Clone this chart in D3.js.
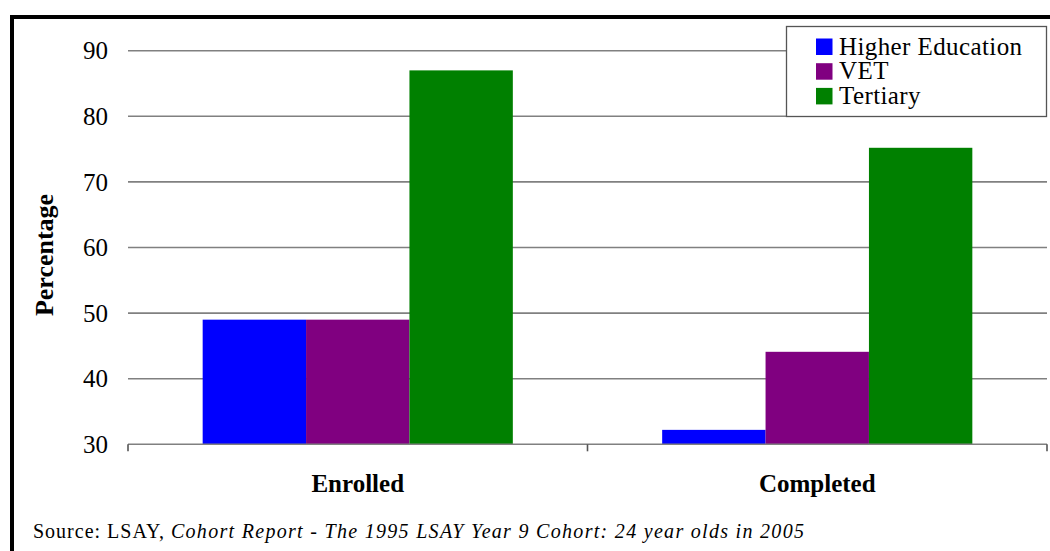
<!DOCTYPE html>
<html><head><meta charset="utf-8">
<script src="https://cdn.jsdelivr.net/npm/d3@7"></script>
<style>
body{margin:0;background:#fff;}
svg{display:block;}
</style></head>
<body><svg id="c" width="1050" height="551" font-family="'Liberation Serif', Tinos, 'Times New Roman', Times, serif"></svg>
<script>
const categories = ["Enrolled", "Completed"];
const seriesNames = ["Higher Education", "VET", "Tertiary"];
const seriesColors = ["#0000ff", "#800080", "#008000"];
const higherEducation = [49, 32.2];
const vet = [49, 44.1];
const tertiary = [87, 75.2];
const yTicks = [30, 40, 50, 60, 70, 80, 90];
const yTitle = "Percentage";
const sourcePlain = "Source: LSAY, ";
const sourceItalic = "Cohort Report - The 1995 LSAY Year 9 Cohort: 24 year olds in 2005";

const seriesValues = [higherEducation, vet, tertiary];
const svg = d3.select("#c");
const FF = "'Liberation Serif', Tinos, 'Times New Roman', Times, serif";

// frame
svg.append("path").attr("d","M12,551 V17 H1050").attr("fill","none").attr("stroke","#000").attr("stroke-width",4);

const pLeft = 128, pRight = 1047, pTop = 50.7, pBottom = 444.3;
const y = d3.scaleLinear().domain([30, 90]).range([pBottom, pTop]);
const x0 = d3.scaleBand().domain(categories).range([pLeft, pRight]).paddingInner(0.325).paddingOuter(0.1625);
const x1 = d3.scaleBand().domain(seriesNames).range([0, x0.bandwidth()]);

// gridlines
svg.append("g").selectAll("line").data(yTicks.filter(t=>t>30)).join("line")
  .attr("x1", pLeft).attr("x2", pRight).attr("y1", d=>y(d)).attr("y2", d=>y(d))
  .attr("stroke","#808080").attr("stroke-width",1.6);

// y tick labels
svg.append("g").selectAll("text").data(yTicks).join("text")
  .attr("x", 108).attr("y", d=>y(d)).attr("dy","0.35em").attr("text-anchor","end")
  .attr("font-family",FF).attr("font-size",25).attr("fill","#000").text(d=>d);

// bars
const rows = [];
categories.forEach((c,i)=>seriesNames.forEach((s,j)=>rows.push({c, s, v: seriesValues[j][i], color: seriesColors[j]})));
svg.append("g").selectAll("rect").data(rows).join("rect")
  .attr("x", d=>x0(d.c)+x1(d.s)).attr("width", x1.bandwidth())
  .attr("y", d=>y(d.v)).attr("height", d=>y(30)-y(d.v)).attr("fill", d=>d.color);

// x axis line and ticks
const xa = svg.append("g").attr("stroke","#808080").attr("stroke-width",1.6);
xa.append("line").attr("x1",pLeft).attr("x2",pRight).attr("y1",y(30)).attr("y2",y(30));
const tickXs = [pLeft, x0.step() + pLeft, pRight];
xa.selectAll("line.t").data(tickXs).join("line").attr("class","t")
  .attr("x1",d=>d).attr("x2",d=>d).attr("y1",y(30)).attr("y2",y(30)+7).attr("stroke","#555");

// category labels
svg.append("g").selectAll("text").data(categories).join("text")
  .attr("x", d=>x0(d)+x0.bandwidth()/2).attr("y", 492).attr("text-anchor","middle")
  .attr("font-family",FF).attr("font-size",25).attr("font-weight","bold").attr("fill","#000").text(d=>d);

// y title
svg.append("text").attr("transform","translate(53,255) rotate(-90)").attr("text-anchor","middle")
  .attr("font-family",FF).attr("font-size",26).attr("font-weight","bold").attr("fill","#000").text(yTitle);

// legend
const lg = svg.append("g");
lg.append("rect").attr("x",786.5).attr("y",26.5).attr("width",260).attr("height",90)
  .attr("fill","#fff").attr("stroke","#555").attr("stroke-width",1.3);
seriesNames.forEach((s,i)=>{
  const yy = 38.5 + i*24.7;
  lg.append("rect").attr("x",816).attr("y",yy).attr("width",16.5).attr("height",16.5).attr("fill",seriesColors[i]);
  lg.append("text").attr("x",839).attr("y",yy+16).attr("font-family",FF).attr("font-size",25)
    .attr("letter-spacing",0.4).attr("fill","#000").text(s);
});

// source
const st = svg.append("text").attr("x",33).attr("y",538).attr("font-family",FF).attr("font-size",20).attr("fill","#000");
st.append("tspan").attr("letter-spacing",1).text(sourcePlain);
st.append("tspan").attr("font-style","italic").attr("letter-spacing",1.3).text(sourceItalic);
</script></body></html>
